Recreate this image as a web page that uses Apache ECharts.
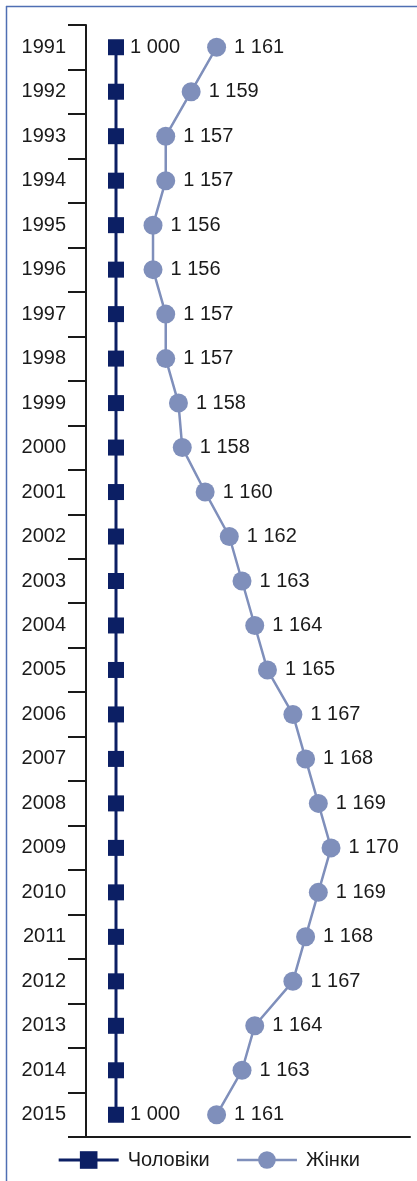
<!DOCTYPE html>
<html>
<head>
<meta charset="utf-8">
<script src="https://cdn.jsdelivr.net/npm/echarts@6/dist/echarts.min.js"></script>
<style>
  html, body { margin: 0; padding: 0; background: #fff; }
  #chart { width: 417px; height: 1181px; }
</style>
</head>
<body>
<div id="chart"></div>
<script>
// роки
const years = ['1991', '1992', '1993', '1994', '1995', '1996', '1997', '1998', '1999', '2000',
  '2001', '2002', '2003', '2004', '2005', '2006', '2007', '2008', '2009', '2010',
  '2011', '2012', '2013', '2014', '2015']

// чоловіки = 1000
const men = [1000, 1000, 1000, 1000, 1000, 1000, 1000, 1000, 1000, 1000,
  1000, 1000, 1000, 1000, 1000, 1000, 1000, 1000, 1000, 1000,
  1000, 1000, 1000, 1000, 1000]

// жінок на 1000 чоловіків
const women = [1161, 1159, 1157, 1157, 1156, 1156, 1157, 1157, 1158, 1158.3,
  1160.1, 1162, 1163, 1164, 1165, 1167, 1168, 1169, 1170, 1169,
  1168, 1167, 1164, 1163, 1161]

const fmt = v => {
  const n = Math.round(v)
  return Math.floor(n / 1000) + ' ' + String(n % 1000).padStart(3, '0')
}

// підпис для чоловіків лише на першому і останньому році
const menData = men.map((v, i) => ({
  value: v,
  label: { show: i === 0 || i === men.length - 1 },
}))

const c = echarts.init(document.getElementById('chart'))
c.setOption({
  animation: false,
  textStyle: { fontFamily: 'Liberation Sans, Arial, sans-serif' },
  graphic: [
    { type: 'line', shape: { x1: 6.5, y1: 6, x2: 6.5, y2: 1181 }, style: { stroke: '#4f6fb3', lineWidth: 1.5 } },
    { type: 'line', shape: { x1: 6, y1: 6.5, x2: 417, y2: 6.5 }, style: { stroke: '#4f6fb3', lineWidth: 1.5 } },
  ],
  grid: { left: 86, right: 7, top: 25, bottom: 44 },
  legend: {
    bottom: 6,
    left: 'center',
    itemWidth: 60,
    itemHeight: 22,
    itemGap: 26,
    textStyle: { fontSize: 20, color: '#1a1a1a', padding: [0, 0, 0, 4] },
    data: [
      { name: 'Чоловіки', lineStyle: { width: 3 } },
      { name: 'Жінки', lineStyle: { width: 2.5 } },
    ],
  },
  yAxis: {
    type: 'category',
    inverse: true,
    data: years,
    axisLine: { show: true, onZero: false, lineStyle: { color: '#1a1a1a', width: 2 } },
    axisTick: { show: true, length: 18, lineStyle: { color: '#1a1a1a', width: 2 } },
    axisLabel: { margin: 20, fontSize: 20, color: '#1a1a1a' },
  },
  xAxis: [
    {
      type: 'value', min: 0, max: 10800,
      axisLine: { show: true, onZero: false, lineStyle: { color: '#1a1a1a', width: 2 } },
      axisTick: { show: false }, axisLabel: { show: false }, splitLine: { show: false },
    },
    {
      type: 'value', min: 1150.73, max: 1176.21, show: false,
      splitLine: { show: false },
    },
  ],
  series: [
    {
      name: 'Чоловіки',
      type: 'line',
      xAxisIndex: 0,
      data: menData,
      symbol: 'rect',
      symbolSize: 16,
      lineStyle: { color: '#0c1f64', width: 3 },
      itemStyle: { color: '#0c1f64' },
      label: { position: 'right', distance: 6, fontSize: 20, color: '#1a1a1a', formatter: p => fmt(p.value) },
    },
    {
      name: 'Жінки',
      type: 'line',
      xAxisIndex: 1,
      data: women,
      symbol: 'circle',
      symbolSize: 19,
      lineStyle: { color: '#7f8fbb', width: 2.5 },
      itemStyle: { color: '#7f8fbb' },
      label: { show: true, position: 'right', distance: 8, fontSize: 20, color: '#1a1a1a', formatter: p => fmt(p.value) },
    },
  ],
})
</script>
</body>
</html>
